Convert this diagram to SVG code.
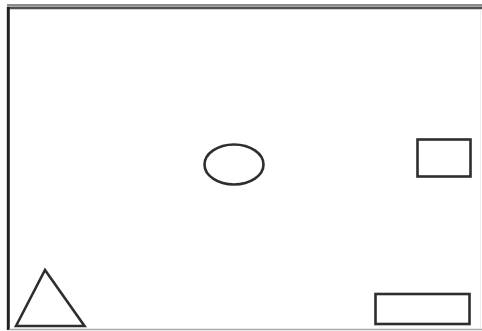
<svg xmlns="http://www.w3.org/2000/svg" width="482" height="331" viewBox="0 0 482 331">
<style>
.shape{fill:none;stroke:#2e2e2e;stroke-width:2.6}
</style>
<rect width="482" height="331" fill="#ffffff"/>
<g id="frame">
<line x1="7" y1="5.3" x2="482" y2="5.3" stroke="#8c8c8c" stroke-width="2.6"/>
<line x1="7" y1="8" x2="482" y2="8" stroke="#505050" stroke-width="2.6"/>
<line x1="8.3" y1="7" x2="8.3" y2="330" stroke="#222" stroke-width="3"/>
<line x1="9" y1="329.5" x2="482" y2="329.5" stroke="#a8a8a8" stroke-width="1.5"/>
<line x1="480.5" y1="10" x2="480.5" y2="329" stroke="#eeeeee" stroke-width="1"/>
</g>
<g id="ellipse"><ellipse class="shape" cx="234" cy="164.5" rx="29.5" ry="20"/></g>
<g id="rect-small"><rect class="shape" x="417.5" y="139.5" width="53" height="37" stroke-width="3"/></g>
<g id="triangle"><polygon class="shape" points="16,326 45,270 84.5,326"/></g>
<g id="rect-wide"><rect class="shape" x="375.5" y="294" width="94" height="30" stroke-width="3"/></g>
</svg>
